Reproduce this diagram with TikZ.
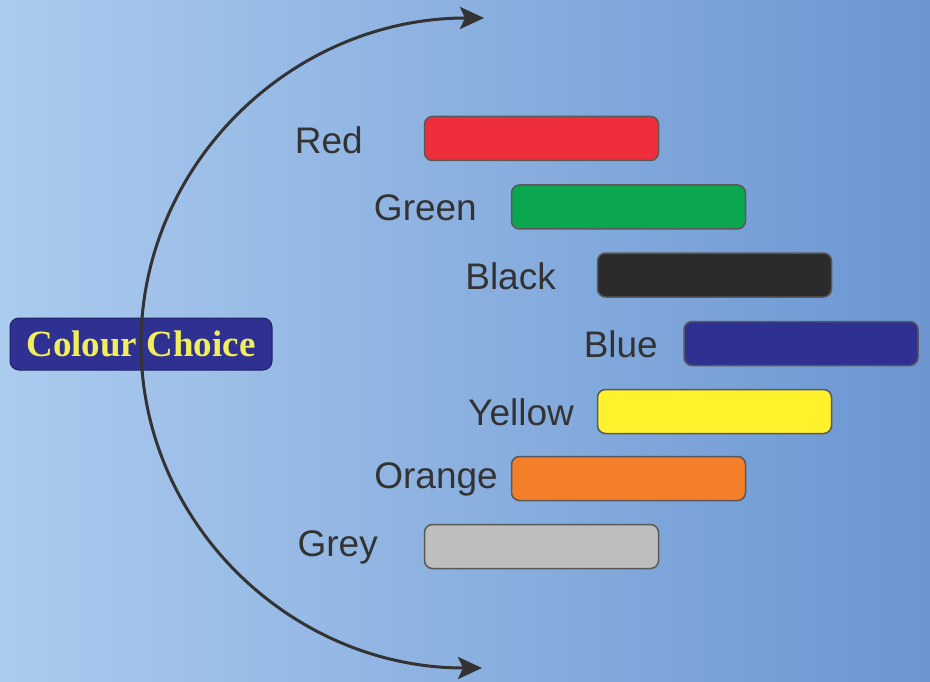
\documentclass[tikz,border=0pt]{standalone}
\usepackage{fontspec}
\setmainfont{Liberation Sans}
\newfontfamily\titlefont{Liberation Serif}
\usetikzlibrary{arrows.meta}
\definecolor{bgL}{HTML}{ABCBEE}
\definecolor{bgR}{HTML}{6B96D2}
\definecolor{cRed}{HTML}{EE2E3B}
\definecolor{cGreen}{HTML}{0AA650}
\definecolor{cBlack}{HTML}{2B2B2B}
\definecolor{cBlue}{HTML}{2E3192}
\definecolor{cYellow}{HTML}{FFF22D}
\definecolor{cOrange}{HTML}{F47F2A}
\definecolor{cGrey}{HTML}{BEBEBE}
\definecolor{txt}{HTML}{333333}
\definecolor{ttl}{HTML}{F2EE5A}
\tikzset{
  bar/.style={draw=black!65, line width=1.5pt, rounded corners=8pt, minimum width=234pt, minimum height=44pt, inner sep=0pt},
  lbl/.style={anchor=east, text=txt, font=\fontsize{37}{40}\selectfont, inner sep=0pt},
  title/.style={fill=cBlue, draw=cBlue!70!black, line width=1pt, rounded corners=9pt, minimum width=262pt, minimum height=52pt, inner sep=0pt, text=ttl, font=\titlefont\bfseries\fontsize{37}{40}\selectfont},
  conn/.style={draw=txt, line width=3pt, -{Stealth[length=24pt,width=22pt,inset=5pt]}}
}
\begin{document}
\begin{tikzpicture}[x=1pt,y=-1pt]
\shade[left color=bgL, right color=bgR] (0,0) rectangle (930,682);
\useasboundingbox (0,0) rectangle (930,682);
\node[title] (cc) at (141,344) {Colour Choice};
\node[bar, fill=cRed]    (red)    at (541.5,138.5) {};
\node[bar, fill=cGreen]  (green)  at (628.5,207) {};
\node[bar, fill=cBlack]  (black)  at (714.5,275) {};
\node[bar, fill=cBlue]   (blue)   at (801,343.5) {};
\node[bar, fill=cYellow] (yellow) at (714.5,411.5) {};
\node[bar, fill=cOrange] (orange) at (628.5,478.5) {};
\node[bar, fill=cGrey]   (grey)   at (541.5,546.5) {};
\node[lbl] (tred)    at (363,140) {Red};
\node[lbl] (tgreen)  at (477,208) {Green};
\node[lbl] (tblack)  at (556,276) {Black};
\node[lbl] (tblue)   at (658,344) {Blue};
\node[lbl] (tyellow) at (574,412) {Yellow};
\node[lbl] (torange) at (498,479) {Orange};
\node[lbl] (tgrey)   at (378,547) {Grey};
\coordinate (top) at (484,18);
\coordinate (bot) at (482,668);
\draw[conn] (cc.center) .. controls (141,164) and (292,18) .. (top);
\draw[conn] (cc.center) .. controls (141,524) and (292,668) .. (bot);
\end{tikzpicture}
\end{document}
